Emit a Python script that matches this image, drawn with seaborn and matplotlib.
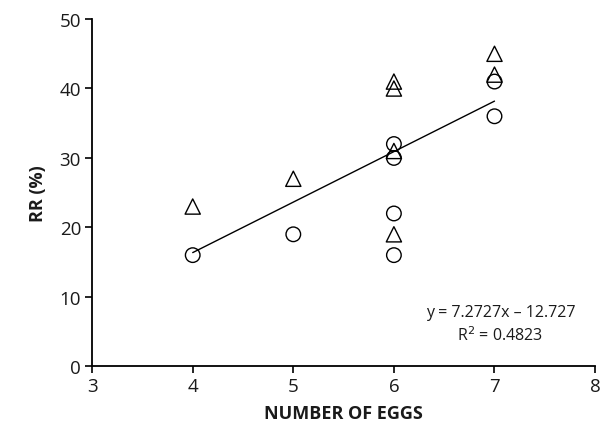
import numpy as np
import pandas as pd
import seaborn as sns
import matplotlib.pyplot as plt

# datos
eggs_circle = [4, 5, 6, 6, 6, 6, 7, 7]
rr_circle = [16, 19, 16, 22, 30, 32, 36, 41]
eggs_tri = [4, 5, 6, 6, 6, 6, 7, 7]
rr_tri = [23, 27, 19, 31, 40, 41, 42, 45]
x_ticks = [3, 4, 5, 6, 7, 8]
y_ticks = [0, 10, 20, 30, 40, 50]

df = pd.DataFrame({
    "eggs": eggs_circle + eggs_tri,
    "rr": rr_circle + rr_tri,
    "group": ["circle"] * len(eggs_circle) + ["tri"] * len(eggs_tri),
})

sns.set_style("ticks")
plt.rcParams["font.family"] = ["Open Sans", "DejaVu Sans"]
txt = "#1a1a1a"

fig = plt.figure(figsize=(6.06, 4.27), dpi=100)
ax = fig.add_axes([0.152, 0.14, 0.83, 0.813])

# linea de tendencia sobre todos los puntos
sns.regplot(data=df, x="eggs", y="rr", scatter=False, ci=None, truncate=True,
            color="black", line_kws={"lw": 1.0}, ax=ax)

sns.scatterplot(data=df[df.group == "circle"], x="eggs", y="rr", marker="o", s=110,
                facecolor="none", edgecolor="black", linewidth=1.0, ax=ax)
sns.scatterplot(data=df[df.group == "tri"], x="eggs", y="rr", marker="^", s=120,
                facecolor="none", edgecolor="black", linewidth=1.0, ax=ax)

ax.set_xlim(3, 8)
ax.set_ylim(0, 50)
ax.set_xticks(x_ticks)
ax.set_yticks(y_ticks)
ax.tick_params(labelsize=13.5, length=5, width=1.2, color="black", labelcolor=txt, pad=3)
ax.set_xlabel("NUMBER OF EGGS", fontsize=13, fontweight="bold", color=txt, labelpad=6)
ax.set_ylabel("RR (%)", fontsize=13, fontweight="bold", color=txt, labelpad=9)
for s in ["left", "bottom"]:
    ax.spines[s].set_color("black")
    ax.spines[s].set_linewidth(1.3)
sns.despine(ax=ax)

ax.text(7.06, 7.8, "y = 7.2727x – 12.727", ha="center", va="center", fontsize=11.5, color=txt)
ax.text(7.06, 4.5, "R$^2$ = 0.4823", ha="center", va="center", fontsize=11.5, color=txt)

fig.savefig("out.png", dpi=100)
